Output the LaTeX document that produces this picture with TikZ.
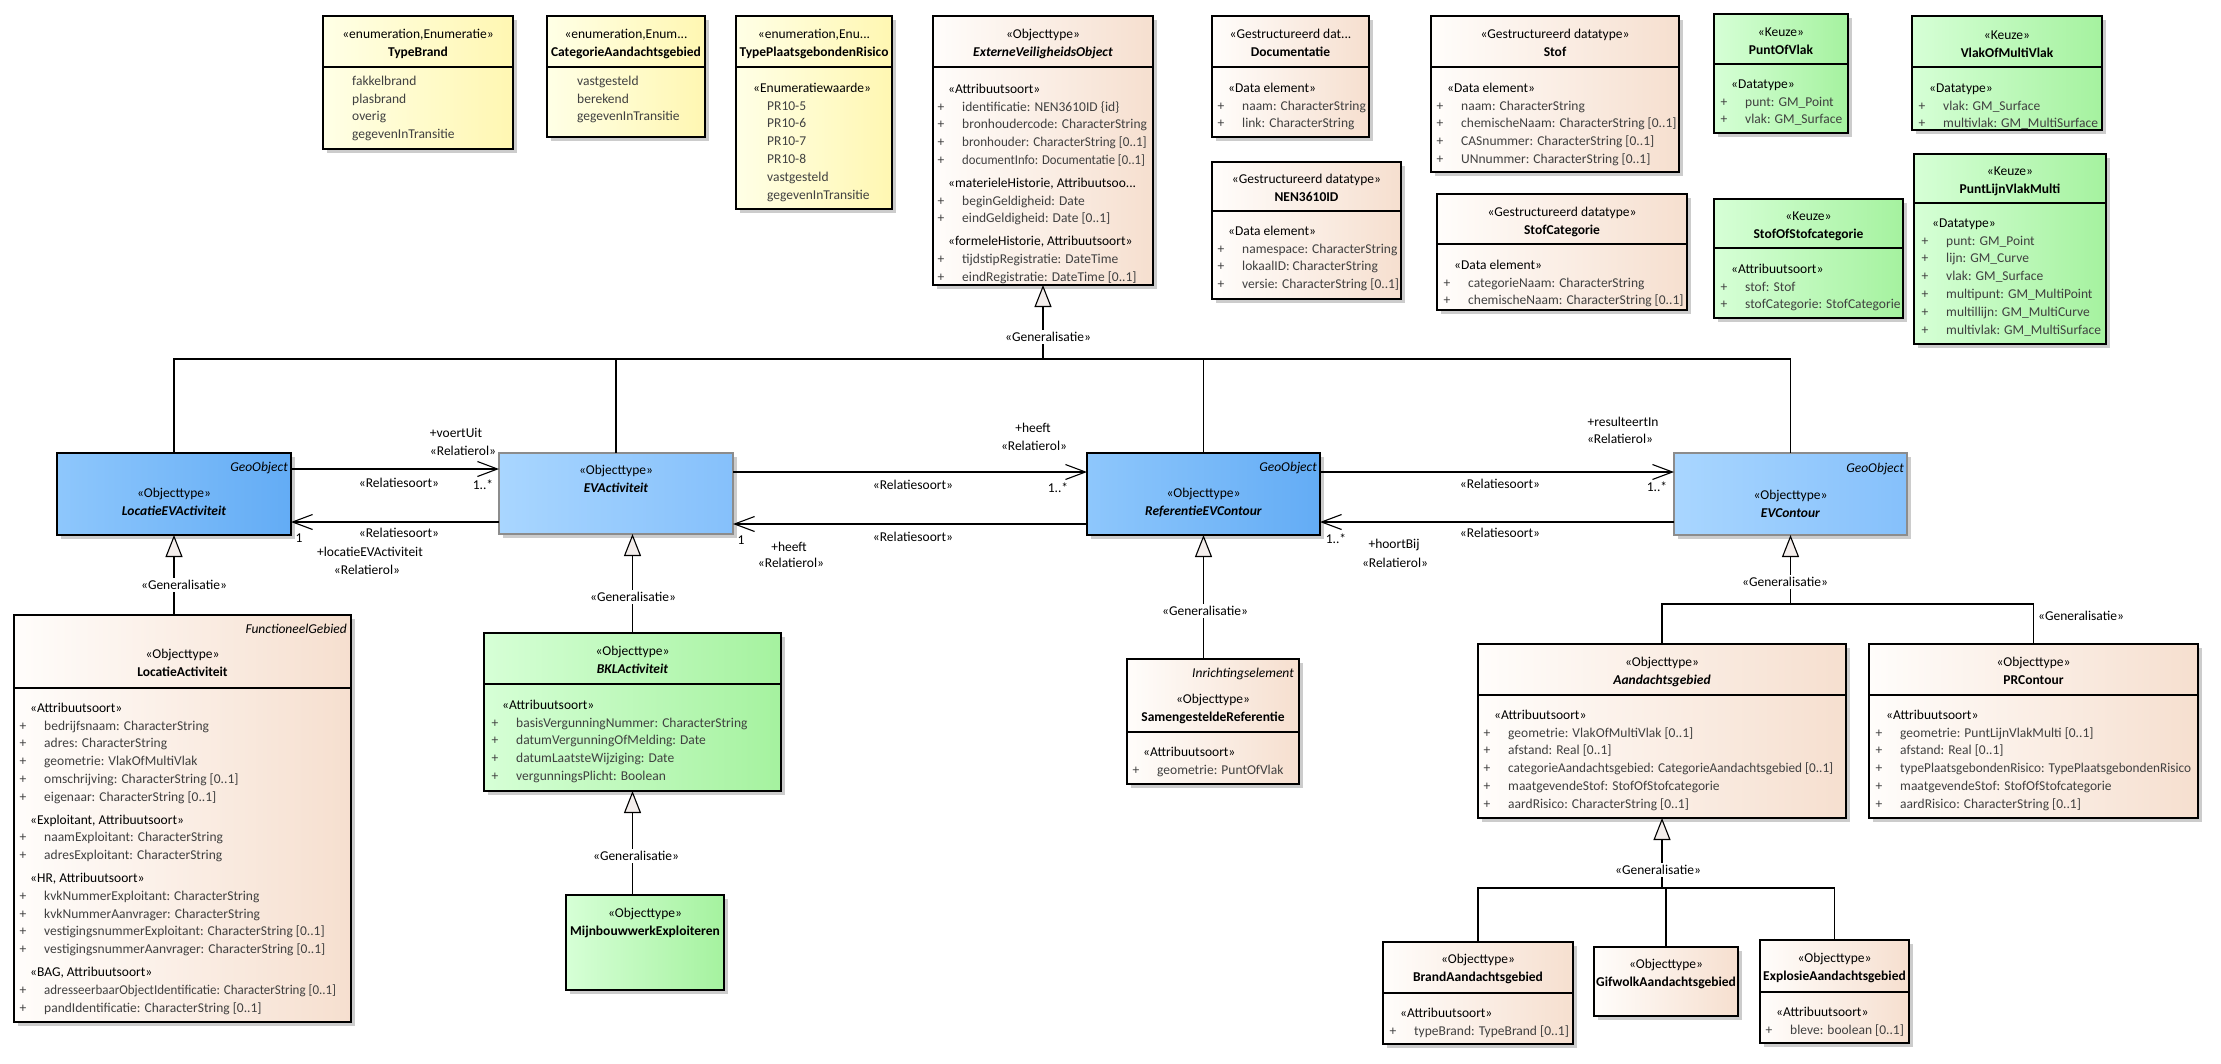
\documentclass[tikz,border=0pt]{standalone}
\usepackage{fontspec}
\setmainfont{Carlito}
\usepackage{graphicx}
\usetikzlibrary{arrows.meta,shadows}
\definecolor{yelL}{HTML}{FFFFE6}
\definecolor{yelR}{HTML}{FFF7B2}
\definecolor{begL}{HTML}{FFFDFB}
\definecolor{begR}{HTML}{F6DFCF}
\definecolor{grnL}{HTML}{D6FFD6}
\definecolor{grnR}{HTML}{A5F29F}
\definecolor{bdL}{HTML}{8EC7FC}
\definecolor{bdR}{HTML}{63ACF5}
\definecolor{blL}{HTML}{A9D6FF}
\definecolor{blR}{HTML}{85C0FB}
\definecolor{gbord}{HTML}{8C8C8C}
\definecolor{attr}{HTML}{404040}
\definecolor{trif}{HTML}{F4EEEC}
\newcommand\tfont{\fontsize{13.5}{17.8}\selectfont}
\newcommand\uatr[1]{\strut\rlap{\hspace*{-10.5pt}\textcolor{attr}{+}}\hspace*{14pt}\textcolor{attr}{#1}}
\newcommand\uenm[1]{\strut\hspace*{14pt}\textcolor{attr}{#1}}
\newcommand\uval[1]{\strut\textcolor{attr}{#1}}
\newcommand\usqz[2]{\scalebox{#1}[1]{#2}}
\newcommand\ubox[7]{%
  \node[box,#2,minimum width={(#5-#3)*1pt},minimum height={(#6-#4)*1pt}] (#1) at (#3,#4) {};
  \ifx\relax#7\relax\else\draw[line width=1.1pt] (#3,#7) -- (#5,#7);\fi}
\tikzset{
  box/.style={draw, line width=1.1pt, inner sep=0pt, outer sep=0pt, anchor=north west,
    drop shadow={shadow xshift=4pt, shadow yshift=-4pt, fill=black!20, opacity=1}},
  yel/.style={left color=yelL, right color=yelR},
  beg/.style={left color=begL, right color=begR},
  grn/.style={left color=grnL, right color=grnR},
  bdk/.style={left color=bdL, right color=bdR},
  blt/.style={left color=blL, right color=blR, draw=gbord},
  hdr/.style={anchor=north, yshift=12.46pt, align=center, inner sep=0pt, font=\tfont},
  bdy/.style={anchor=north west, yshift=12.46pt, align=left, inner sep=0pt, font=\tfont},
  tag/.style={anchor=base east, inner sep=0pt, font=\tfont\itshape},
  lbl/.style={inner sep=0pt, font=\tfont},
  glbl/.style={inner sep=2pt, font=\tfont, fill=white},
  conn/.style={line width=1.1pt},
  gen/.style={line width=1.1pt, -{Triangle[length=22pt,width=17pt,fill=trif]}},
  asc/.style={line width=1.1pt, -{Straight Barb[length=20pt,width=15pt]}},
}
\begin{document}
\begin{tikzpicture}[x=1pt,y=-1pt]
\fill[white] (0,0) rectangle (2221,1063);
\useasboundingbox (0,0) rectangle (2221,1063);

% ---------- top row ----------
\ubox{tb}{yel}{323}{16}{513}{149}{67}
\node[hdr] (tbh) at (418,38) {\strut«enumeration,Enumeratie»\\\textbf{TypeBrand}};
\node[bdy] (tbb) at (352,85) {\uval{fakkelbrand}\\\uval{plasbrand}\\\uval{overig}\\\uval{gegevenInTransitie}};

\ubox{cag}{yel}{547}{16}{705}{137}{67}
\node[hdr] (cagh) at (626,38) {\strut«enumeration,Enum...\\\textbf{CategorieAandachtsgebied}};
\node[bdy] (cagb) at (577,85) {\uval{vastgesteld}\\\uval{berekend}\\\uval{gegevenInTransitie}};

\ubox{tpr}{yel}{736}{16}{892}{209}{67}
\node[hdr] (tprh) at (814,38) {\strut«enumeration,Enu...\\\textbf{TypePlaatsgebondenRisico}};
\node[bdy] (tprb) at (753,92) {\strut«Enumeratiewaarde»\\\uenm{PR10-5}\\\uenm{PR10-6}\\\uenm{PR10-7}\\\uenm{PR10-8}\\\uenm{vastgesteld}\\\uenm{gegevenInTransitie}};

\ubox{evo}{beg}{933}{16}{1153}{285}{67}
\node[hdr] (evoh) at (1043,38) {\strut«Objecttype»\\\textbf{\textit{ExterneVeiligheidsObject}}};
\node[bdy] (evob) at (948,93) {\strut«Attribuutsoort»\\
  \uatr{identificatie: NEN3610ID \{id\}}\\
  \uatr{bronhoudercode: CharacterString}\\
  \uatr{\usqz{0.97}{bronhouder: CharacterString [0..1]}}\\
  \uatr{\usqz{0.94}{documentInfo: Documentatie [0..1]}}\\[5pt]
  \strut«materieleHistorie, Attribuutsoo...\\
  \uatr{beginGeldigheid: Date}\\
  \uatr{eindGeldigheid: Date [0..1]}\\[5pt]
  \strut«formeleHistorie, Attribuutsoort»\\
  \uatr{tijdstipRegistratie: DateTime}\\
  \uatr{eindRegistratie: DateTime [0..1]}};

\ubox{doc}{beg}{1212}{16}{1369}{137}{67}
\node[hdr] (doch) at (1290.5,38) {\strut«Gestructureerd dat...\\\textbf{Documentatie}};
\node[bdy] (docb) at (1228,92) {\strut«Data element»\\\uatr{naam: CharacterString}\\\uatr{link: CharacterString}};

\ubox{nen}{beg}{1212}{162}{1401}{299}{211}
\node[hdr] (nenh) at (1306.5,183) {\strut«Gestructureerd datatype»\\\textbf{NEN3610ID}};
\node[bdy] (nenb) at (1228,235) {\strut«Data element»\\\uatr{namespace: CharacterString}\\\uatr{lokaalID: CharacterString}\\\uatr{versie: CharacterString [0..1]}};

\ubox{stof}{beg}{1431}{16}{1679}{172}{67}
\node[hdr] (stofh) at (1555,38) {\strut«Gestructureerd datatype»\\\textbf{Stof}};
\node[bdy] (stofb) at (1447,92) {\strut«Data element»\\\uatr{naam: CharacterString}\\\uatr{chemischeNaam: CharacterString [0..1]}\\\uatr{CASnummer: CharacterString [0..1]}\\\uatr{UNnummer: CharacterString [0..1]}};

\ubox{stc}{beg}{1437}{194}{1687}{310}{244}
\node[hdr] (stch) at (1562,216) {\strut«Gestructureerd datatype»\\\textbf{StofCategorie}};
\node[bdy] (stcb) at (1454,269) {\strut«Data element»\\\uatr{categorieNaam: CharacterString}\\\uatr{chemischeNaam: CharacterString [0..1]}};

\ubox{pov}{grn}{1714}{14}{1848}{133}{64}
\node[hdr] (povh) at (1781,36) {\strut«Keuze»\\\textbf{PuntOfVlak}};
\node[bdy] (povb) at (1731,88) {\strut«Datatype»\\\uatr{punt: GM\_Point}\\\uatr{vlak: GM\_Surface}};

\ubox{vomv}{grn}{1912}{16}{2102}{130}{67}
\node[hdr] (vomvh) at (2007,39) {\strut«Keuze»\\\textbf{VlakOfMultiVlak}};
\node[bdy] (vomvb) at (1929,92) {\strut«Datatype»\\\uatr{vlak: GM\_Surface}\\\uatr{multivlak: GM\_MultiSurface}};

\ubox{sosc}{grn}{1714}{199}{1903}{318}{248}
\node[hdr] (sosch) at (1808.5,220) {\strut«Keuze»\\\textbf{StofOfStofcategorie}};
\node[bdy] (soscb) at (1731,273) {\strut«Attribuutsoort»\\\uatr{stof: Stof}\\\uatr{stofCategorie: StofCategorie}};

\ubox{plvm}{grn}{1914}{154}{2106}{344}{203}
\node[hdr] (plvmh) at (2010,175) {\strut«Keuze»\\\textbf{PuntLijnVlakMulti}};
\node[bdy] (plvmb) at (1932,227) {\strut«Datatype»\\\uatr{punt: GM\_Point}\\\uatr{lijn: GM\_Curve}\\\uatr{vlak: GM\_Surface}\\\uatr{multipunt: GM\_MultiPoint}\\\uatr{multillijn: GM\_MultiCurve}\\\uatr{multivlak: GM\_MultiSurface}};

% ---------- middle row ----------
\ubox{lev}{bdk}{57}{453}{291}{535}{}
\node[tag] (levt) at (288,471) {GeoObject};
\node[hdr] (levh) at (174,497) {\strut«Objecttype»\\\textbf{\textit{LocatieEVActiviteit}}};

\ubox{eva}{blt}{499}{453}{733}{534}{}
\node[hdr] (evah) at (616,474) {\strut«Objecttype»\\\textbf{\textit{EVActiviteit}}};

\ubox{rec}{bdk}{1087}{453}{1320}{535}{}
\node[tag] (rect) at (1317,471) {GeoObject};
\node[hdr] (rech) at (1203.5,497) {\strut«Objecttype»\\\textbf{\textit{ReferentieEVContour}}};

\ubox{evc}{blt}{1674}{453}{1907}{535}{}
\node[tag] (evct) at (1904,472) {GeoObject};
\node[hdr] (evch) at (1790.5,499) {\strut«Objecttype»\\\textbf{\textit{EVContour}}};

% ---------- lower boxes ----------
\ubox{la}{beg}{14}{615}{351}{1022}{688}
\node[tag] (lat) at (347,633) {FunctioneelGebied};
\node[hdr] (lah) at (182.5,658) {\strut«Objecttype»\\\textbf{LocatieActiviteit}};
\node[bdy] (lab) at (30,712) {\strut«Attribuutsoort»\\
  \uatr{bedrijfsnaam: CharacterString}\\
  \uatr{adres: CharacterString}\\
  \uatr{geometrie: VlakOfMultiVlak}\\
  \uatr{omschrijving: CharacterString [0..1]}\\
  \uatr{eigenaar: CharacterString [0..1]}\\[5pt]
  \strut«Exploitant, Attribuutsoort»\\
  \uatr{naamExploitant: CharacterString}\\
  \uatr{adresExploitant: CharacterString}\\[5pt]
  \strut«HR, Attribuutsoort»\\
  \uatr{kvkNummerExploitant: CharacterString}\\
  \uatr{kvkNummerAanvrager: CharacterString}\\
  \uatr{vestigingsnummerExploitant: CharacterString [0..1]}\\
  \uatr{vestigingsnummerAanvrager: CharacterString [0..1]}\\[5pt]
  \strut«BAG, Attribuutsoort»\\
  \uatr{\usqz{0.96}{adresseerbaarObjectIdentificatie: CharacterString [0..1]}}\\
  \uatr{pandIdentificatie: CharacterString [0..1]}};

\ubox{bkl}{grn}{484}{633}{781}{791}{684}
\node[hdr] (bklh) at (632.5,655) {\strut«Objecttype»\\\textbf{\textit{BKLActiviteit}}};
\node[bdy] (bklb) at (502,709) {\strut«Attribuutsoort»\\
  \uatr{basisVergunningNummer: CharacterString}\\
  \uatr{datumVergunningOfMelding: Date}\\
  \uatr{datumLaatsteWijziging: Date}\\
  \uatr{vergunningsPlicht: Boolean}};

\ubox{mij}{grn}{566}{895}{724}{990}{}
\node[hdr] (mijh) at (645,917) {\strut«Objecttype»\\\textbf{MijnbouwwerkExploiteren}};

\ubox{sr}{beg}{1127}{659}{1299}{784}{732}
\node[tag] (srt) at (1294,677) {Inrichtingselement};
\node[hdr] (srh) at (1213,703) {\strut«Objecttype»\\\textbf{SamengesteldeReferentie}};
\node[bdy] (srb) at (1143,756) {\strut«Attribuutsoort»\\\uatr{geometrie: PuntOfVlak}};

\ubox{ag}{beg}{1478}{644}{1846}{818}{695}
\node[hdr] (agh) at (1662,666) {\strut«Objecttype»\\\textbf{\textit{Aandachtsgebied}}};
\node[bdy] (agb) at (1494,719) {\strut«Attribuutsoort»\\
  \uatr{geometrie: VlakOfMultiVlak [0..1]}\\
  \uatr{afstand: Real [0..1]}\\
  \uatr{\usqz{0.98}{categorieAandachtsgebied: CategorieAandachtsgebied [0..1]}}\\
  \uatr{maatgevendeStof: StofOfStofcategorie}\\
  \uatr{aardRisico: CharacterString [0..1]}};

\ubox{prc}{beg}{1869}{644}{2198}{818}{695}
\node[hdr] (prch) at (2033.5,666) {\strut«Objecttype»\\\textbf{PRContour}};
\node[bdy] (prcb) at (1886,719) {\strut«Attribuutsoort»\\
  \uatr{geometrie: PuntLijnVlakMulti [0..1]}\\
  \uatr{afstand: Real [0..1]}\\
  \uatr{\usqz{0.98}{typePlaatsgebondenRisico: TypePlaatsgebondenRisico}}\\
  \uatr{maatgevendeStof: StofOfStofcategorie}\\
  \uatr{aardRisico: CharacterString [0..1]}};

\ubox{bag}{beg}{1383}{942}{1573}{1044}{993}
\node[hdr] (bagh) at (1478,963) {\strut«Objecttype»\\\textbf{BrandAandachtsgebied}};
\node[bdy] (bagb) at (1400,1017) {\strut«Attribuutsoort»\\\uatr{typeBrand: TypeBrand [0..1]}};

\ubox{gag}{beg}{1594}{947}{1738}{1016}{}
\node[hdr] (gagh) at (1666,968) {\strut«Objecttype»\\\textbf{GifwolkAandachtsgebied}};

\ubox{eag}{beg}{1760}{940}{1909}{1043}{992}
\node[hdr] (eagh) at (1834.5,962) {\strut«Objecttype»\\\textbf{ExplosieAandachtsgebied}};
\node[bdy] (eagb) at (1776,1016) {\strut«Attribuutsoort»\\\uatr{bleve: boolean [0..1]}};

% ---------- generalisation trees ----------
\coordinate (j0) at (1043,359);
\draw[conn] (lev.north) |- (j0) -| (evc.north);
\draw[conn] (eva.north) -- (eva.north |- j0);
\draw[conn] (rec.north) -- (rec.north |- j0);
\draw[gen] (j0) -- (evo.south);
\node[glbl] (g1) at (1048,337) {«Generalisatie»};

\draw[gen] (la.north -| lev.south) -- (lev.south);
\node[glbl] (g2) at (184,585) {«Generalisatie»};

\draw[gen] (bkl.north) -- (bkl.north |- eva.south);
\node[glbl] (g3) at (633,597) {«Generalisatie»};

\draw[gen] (mij.north -| bkl.south) -- (bkl.south);
\node[glbl] (g4) at (636,856) {«Generalisatie»};

\draw[gen] (sr.north -| rec.south) -- (rec.south);
\node[glbl] (g5) at (1205,611) {«Generalisatie»};

\coordinate (j1) at (1790.5,604);
\draw[conn] (ag.north) |- (j1) -| (prc.north);
\draw[gen] (j1) -- (evc.south);
\node[glbl] (g6) at (1785,582) {«Generalisatie»};
\node[lbl] (g7) at (2081,616) {«Generalisatie»};

\coordinate (j2) at (1662,888);
\draw[conn] (bag.north) |- (j2) -| (eag.north);
\draw[conn] (gag.north) -- (gag.north |- j2);
\draw[gen] (j2) -- (ag.south);
\node[glbl] (g8) at (1658,870) {«Generalisatie»};

% ---------- associations ----------
\draw[asc] (lev.east |- 0,469) -- (eva.west |- 0,469);
\node[lbl] (a1r) at (456,433) {+voertUit};
\node[lbl] (a1s) at (463,451) {«Relatierol»};
\node[lbl] (a1t) at (399,483) {«Relatiesoort»};
\node[lbl] (a1m) at (483,485) {1..*};

\draw[asc] (eva.west |- 0,522) -- (lev.east |- 0,522);
\node[lbl] (a2m) at (299,538) {1};
\node[lbl] (a2t) at (399,533) {«Relatiesoort»};
\node[lbl] (a2r) at (370,552) {+locatieEVActiviteit};
\node[lbl] (a2s) at (367,570) {«Relatierol»};

\draw[asc] (eva.east |- 0,472) -- (rec.west |- 0,472);
\node[lbl] (a3r) at (1033,428) {+heeft};
\node[lbl] (a3s) at (1034,446) {«Relatierol»};
\node[lbl] (a3t) at (913,485) {«Relatiesoort»};
\node[lbl] (a3m) at (1058,488) {1..*};

\draw[asc] (rec.west |- 0,524) -- (eva.east |- 0,524);
\node[lbl] (a4m) at (741,540) {1};
\node[lbl] (a4r) at (789,547) {+heeft};
\node[lbl] (a4s) at (791,563) {«Relatierol»};
\node[lbl] (a4t) at (913,537) {«Relatiesoort»};

\draw[asc] (rec.east |- 0,472) -- (evc.west |- 0,472);
\node[lbl] (a5r) at (1623,422) {+resulteertIn};
\node[lbl] (a5s) at (1620,439) {«Relatierol»};
\node[lbl] (a5t) at (1500,484) {«Relatiesoort»};
\node[lbl] (a5m) at (1657,487) {1..*};

\draw[asc] (evc.west |- 0,522) -- (rec.east |- 0,522);
\node[lbl] (a6m) at (1336,539) {1..*};
\node[lbl] (a6r) at (1394,545) {+hoortBij};
\node[lbl] (a6s) at (1395,563) {«Relatierol»};
\node[lbl] (a6t) at (1500,533) {«Relatiesoort»};
\end{tikzpicture}
\end{document}
